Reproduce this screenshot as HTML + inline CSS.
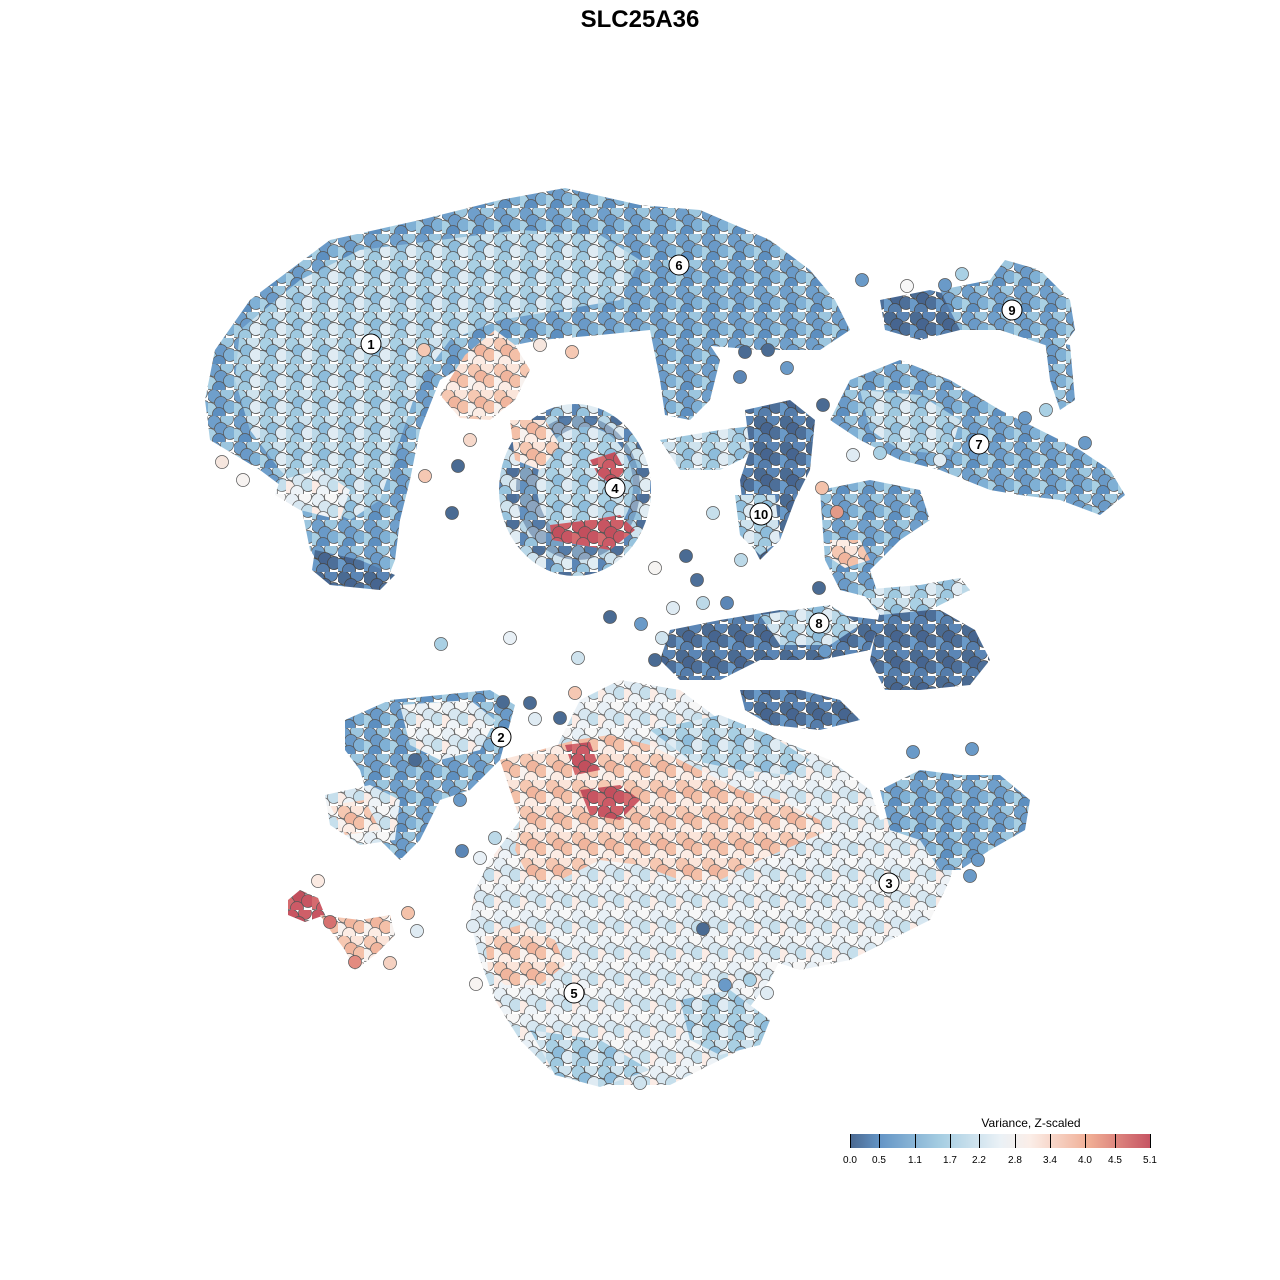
<!DOCTYPE html>
<html><head><style>
html,body{margin:0;padding:0;background:#fff;}
svg{display:block;font-family:"Liberation Sans",sans-serif;}
</style></head><body>
<svg width="1280" height="1280" viewBox="0 0 1280 1280" xmlns="http://www.w3.org/2000/svg">
<defs>
<linearGradient id="lg" x1="0" x2="1" y1="0" y2="0">
<stop offset="0" stop-color="#4a6890"/>
<stop offset="0.1" stop-color="#6495c6"/>
<stop offset="0.3" stop-color="#a5cde2"/>
<stop offset="0.5" stop-color="#eaf1f6"/>
<stop offset="0.6" stop-color="#fbeee8"/>
<stop offset="0.8" stop-color="#f0ad94"/>
<stop offset="1" stop-color="#c65463"/>
</linearGradient>
<pattern id="pA" width="26" height="26" patternUnits="userSpaceOnUse">
<g stroke="#555" stroke-width="0.7"><circle cx="6" cy="6" r="6.5" fill="#6f9fcb"/><circle cx="19" cy="3" r="6.5" fill="#9cc6df"/><circle cx="13" cy="13" r="6.5" fill="#6a9ac8"/><circle cx="2" cy="19" r="6.5" fill="#a9d0e4"/><circle cx="22" cy="17" r="6.5" fill="#7fb0d5"/><circle cx="11" cy="24" r="6.5" fill="#5d8fc0"/></g></pattern>
<pattern id="pB" width="26" height="26" patternUnits="userSpaceOnUse">
<g stroke="#555" stroke-width="0.7"><circle cx="6" cy="6" r="6.5" fill="#a9d0e4"/><circle cx="19" cy="3" r="6.5" fill="#cfe3ee"/><circle cx="13" cy="13" r="6.5" fill="#8dbcdb"/><circle cx="2" cy="19" r="6.5" fill="#bcd9e8"/><circle cx="22" cy="17" r="6.5" fill="#dfebf3"/><circle cx="11" cy="24" r="6.5" fill="#9fc9e0"/></g></pattern>
<pattern id="pC" width="26" height="26" patternUnits="userSpaceOnUse">
<g stroke="#444" stroke-width="0.7"><circle cx="6" cy="6" r="6.5" fill="#4a6b93"/><circle cx="19" cy="3" r="6.5" fill="#5b86b6"/><circle cx="13" cy="13" r="6.5" fill="#466590"/><circle cx="2" cy="19" r="6.5" fill="#6a9ac8"/><circle cx="22" cy="17" r="6.5" fill="#4d6f99"/><circle cx="11" cy="24" r="6.5" fill="#557dab"/></g></pattern>
<pattern id="pD" width="26" height="26" patternUnits="userSpaceOnUse">
<g stroke="#666" stroke-width="0.7"><circle cx="6" cy="6" r="6.5" fill="#e8f0f6"/><circle cx="19" cy="3" r="6.5" fill="#f7f7f7"/><circle cx="13" cy="13" r="6.5" fill="#d7e7f1"/><circle cx="2" cy="19" r="6.5" fill="#fbece6"/><circle cx="22" cy="17" r="6.5" fill="#c6dfec"/><circle cx="11" cy="24" r="6.5" fill="#eef3f7"/></g></pattern>
<pattern id="pE" width="26" height="26" patternUnits="userSpaceOnUse">
<g stroke="#666" stroke-width="0.7"><circle cx="6" cy="6" r="6.5" fill="#f6c8b2"/><circle cx="19" cy="3" r="6.5" fill="#fbe5da"/><circle cx="13" cy="13" r="6.5" fill="#f1b59d"/><circle cx="2" cy="19" r="6.5" fill="#f8f2ef"/><circle cx="22" cy="17" r="6.5" fill="#f4c0a8"/><circle cx="11" cy="24" r="6.5" fill="#fcece4"/></g></pattern>
<pattern id="pF" width="26" height="26" patternUnits="userSpaceOnUse">
<g stroke="#555" stroke-width="0.7"><circle cx="6" cy="6" r="6.5" fill="#c85562"/><circle cx="19" cy="3" r="6.5" fill="#cf5f68"/><circle cx="13" cy="13" r="6.5" fill="#c24f5d"/><circle cx="2" cy="19" r="6.5" fill="#d56b6f"/><circle cx="22" cy="17" r="6.5" fill="#c85562"/><circle cx="11" cy="24" r="6.5" fill="#cc5a66"/></g></pattern>
<pattern id="pG" width="26" height="26" patternUnits="userSpaceOnUse">
<g stroke="#555" stroke-width="0.7"><circle cx="6" cy="6" r="6.5" fill="#b8d7e8"/><circle cx="19" cy="3" r="6.5" fill="#4d6f99"/><circle cx="13" cy="13" r="6.5" fill="#cfe3ee"/><circle cx="2" cy="19" r="6.5" fill="#5b86b6"/><circle cx="22" cy="17" r="6.5" fill="#e0ecf3"/><circle cx="11" cy="24" r="6.5" fill="#98c4de"/></g></pattern>
</defs>

<text x="640" y="27" text-anchor="middle" font-size="24" font-weight="bold" fill="#000">SLC25A36</text>

<path fill="url(#pA)" d="M215,350 L250,300 L330,240 L420,220 L500,200 L565,188 L640,205 L700,210 L770,240 L810,270 L835,300 L850,330 L820,350 L760,350 L700,345 L650,330 L600,335 L540,340 L490,350 L440,380 L420,430 L410,480 L400,520 L395,560 L385,585 L330,580 L310,550 L300,500 L260,470 L210,440 L205,400 Z"/>
<path fill="url(#pB)" d="M240,330 L300,280 L360,250 L440,240 L520,230 L600,235 L640,260 L620,300 L560,310 L500,320 L450,340 L420,380 L400,440 L380,500 L350,520 L310,500 L280,470 L250,430 L235,380 Z"/>
<path fill="url(#pD)" d="M280,480 L320,470 L350,490 L340,520 L300,510 L275,495 Z"/>
<path fill="url(#pC)" d="M315,550 L360,560 L395,575 L380,590 L330,585 L312,570 Z"/>
<path fill="url(#pE)" d="M440,395 L465,355 L495,330 L515,345 L530,370 L515,400 L490,420 L460,418 Z"/>
<ellipse cx="575" cy="490" rx="76" ry="86" fill="url(#pG)"/>
<ellipse cx="578" cy="488" rx="62" ry="72" fill="url(#pC)" opacity="0.5"/>
<ellipse cx="585" cy="485" rx="48" ry="58" fill="url(#pB)"/>
<path fill="url(#pF)" d="M590,460 L615,452 L625,470 L612,485 L598,475 Z"/>
<path fill="url(#pF)" d="M550,525 L590,520 L620,515 L635,530 L610,550 L580,545 L552,540 Z"/>
<path fill="url(#pE)" d="M510,420 L545,420 L560,445 L540,470 L515,460 Z"/>
<path fill="url(#pA)" d="M650,330 L700,330 L720,360 L710,400 L690,420 L665,415 L660,380 Z"/>
<path fill="url(#pB)" d="M660,440 L720,430 L760,425 L760,450 L720,470 L680,470 Z"/>
<path fill="url(#pC)" d="M745,410 L790,400 L815,420 L810,470 L795,500 L780,540 L760,560 L745,530 L740,480 L750,450 Z"/>
<path fill="url(#pB)" d="M735,495 L775,495 L780,540 L760,555 L740,535 Z"/>
<path fill="url(#pA)" d="M850,380 L900,360 L950,380 L1000,410 L1040,430 L1080,450 L1110,470 L1125,495 L1100,515 L1060,500 L1020,495 L990,490 L940,470 L900,460 L860,440 L830,420 Z"/>
<path fill="url(#pB)" d="M860,390 L920,395 L960,420 L950,455 L900,450 L870,430 Z"/>
<path fill="url(#pA)" d="M820,490 L870,480 L920,490 L930,520 L900,540 L870,570 L880,600 L840,590 L825,560 Z"/>
<path fill="url(#pE)" d="M830,540 L860,540 L870,560 L845,568 L830,558 Z"/>
<path fill="url(#pC)" d="M880,300 L930,290 L970,300 L960,330 L920,340 L885,330 Z"/>
<path fill="url(#pA)" d="M940,290 L990,280 L1005,260 L1040,270 L1070,300 L1075,330 L1060,350 L1030,340 L1000,330 L960,330 Z"/>
<path fill="url(#pA)" d="M1045,340 L1070,345 L1075,400 L1060,410 L1050,380 Z"/>
<path fill="url(#pC)" d="M880,610 L940,610 L975,630 L990,660 L970,685 L920,690 L885,690 L870,660 Z"/>
<path fill="url(#pB)" d="M860,590 L920,585 L960,578 L970,590 L930,610 L880,615 Z"/>
<path fill="url(#pC)" d="M670,630 L720,620 L780,610 L840,615 L880,620 L870,650 L820,660 L760,660 L720,680 L680,680 L660,660 Z"/>
<path fill="url(#pB)" d="M760,615 L830,605 L860,625 L830,645 L780,645 Z"/>
<path fill="url(#pC)" d="M740,690 L800,690 L840,700 L860,720 L820,730 L770,725 L745,710 Z"/>
<path fill="url(#pA)" d="M345,720 L390,700 L440,695 L490,690 L515,705 L500,760 L470,790 L440,800 L420,840 L400,860 L380,840 L360,770 L345,750 Z"/>
<path fill="url(#pD)" d="M400,705 L470,700 L495,720 L480,750 L440,760 L410,745 Z"/>
<path fill="url(#pD)" d="M325,795 L370,785 L400,800 L395,840 L360,845 L330,825 Z"/>
<path fill="url(#pE)" d="M330,805 L365,800 L380,830 L345,835 Z"/>
<path fill="url(#pD)" d="M490,860 L520,820 L540,790 L560,740 L580,700 L620,680 L680,690 L720,720 L780,740 L830,760 L870,790 L880,820 L860,860 L840,900 L790,940 L770,980 L740,1020 L760,1040 L720,1060 L670,1085 L600,1085 L550,1070 L520,1040 L495,1000 L480,960 L470,920 L475,890 Z"/>
<path fill="url(#pE)" d="M500,760 L540,750 L575,740 L610,735 L650,745 L700,770 L740,790 L780,800 L820,820 L830,850 L800,870 L760,860 L720,880 L680,880 L640,865 L600,860 L560,880 L530,880 L515,850 L520,820 Z"/>
<path fill="url(#pE)" d="M485,935 L520,925 L555,940 L565,965 L540,985 L505,985 L488,970 Z"/>
<path fill="url(#pF)" d="M565,745 L590,742 L600,770 L575,775 Z"/>
<path fill="url(#pF)" d="M580,790 L620,785 L640,800 L620,820 L590,815 Z"/>
<path fill="url(#pB)" d="M650,730 L720,715 L770,735 L810,760 L790,775 L740,770 L690,760 Z"/>
<path fill="url(#pB)" d="M680,1000 L730,990 L770,1020 L760,1045 L720,1055 L690,1040 Z"/>
<path fill="url(#pB)" d="M530,1030 L600,1040 L650,1070 L600,1087 L555,1075 Z"/>
<path fill="url(#pD)" d="M760,860 L830,830 L880,820 L920,810 L960,830 L950,880 L930,920 L890,940 L850,960 L800,970 L770,960 L750,920 Z"/>
<path fill="url(#pA)" d="M880,790 L920,770 L960,775 L1000,775 L1030,800 L1025,830 L990,850 L960,870 L940,870 L920,840 L890,830 Z"/>
<path fill="url(#pF)" d="M288,900 L300,890 L318,898 L325,915 L305,922 L288,915 Z"/>
<path fill="url(#pE)" d="M320,915 L360,920 L390,915 L395,935 L375,955 L355,970 L345,950 L330,930 Z"/>
<circle cx="330" cy="922" r="6.5" fill="#d6716f" stroke="#555" stroke-width="0.7"/>
<circle cx="355" cy="962" r="6.5" fill="#e38b80" stroke="#555" stroke-width="0.7"/>
<circle cx="318" cy="881" r="6.5" fill="#fbeae2" stroke="#555" stroke-width="0.7"/>
<circle cx="408" cy="913" r="6.5" fill="#f4c2aa" stroke="#555" stroke-width="0.7"/>
<circle cx="417" cy="931" r="6.5" fill="#dfebf3" stroke="#555" stroke-width="0.7"/>
<circle cx="390" cy="963" r="6.5" fill="#f5d1c1" stroke="#555" stroke-width="0.7"/>

<g stroke="#555" stroke-width="0.7">
<circle cx="243" cy="480" r="6.5" fill="#f7f3f1"/><circle cx="222" cy="462" r="6.5" fill="#f6e6de"/>
<circle cx="425" cy="476" r="6.5" fill="#f5c8b3"/><circle cx="452" cy="513" r="6.5" fill="#4a6b93"/>
<circle cx="458" cy="466" r="6.5" fill="#4a6b93"/><circle cx="655" cy="568" r="6.5" fill="#f6f4f2"/>
<circle cx="686" cy="556" r="6.5" fill="#4a6b93"/><circle cx="697" cy="580" r="6.5" fill="#4d6f99"/>
<circle cx="741" cy="560" r="6.5" fill="#bcd9e8"/><circle cx="713" cy="513" r="6.5" fill="#c6dfec"/>
<circle cx="727" cy="603" r="6.5" fill="#5b86b6"/><circle cx="703" cy="603" r="6.5" fill="#bcd9e8"/>
<circle cx="673" cy="608" r="6.5" fill="#dfebf3"/><circle cx="610" cy="617" r="6.5" fill="#4a6b93"/>
<circle cx="641" cy="624" r="6.5" fill="#6a9ac8"/><circle cx="662" cy="638" r="6.5" fill="#cfe3ee"/>
<circle cx="655" cy="660" r="6.5" fill="#4a6b93"/><circle cx="578" cy="658" r="6.5" fill="#cfe3ee"/>
<circle cx="510" cy="638" r="6.5" fill="#e8f0f6"/><circle cx="441" cy="644" r="6.5" fill="#a9d0e4"/>
<circle cx="825" cy="651" r="6.5" fill="#6a9ac8"/><circle cx="819" cy="588" r="6.5" fill="#4a6b93"/>
<circle cx="862" cy="280" r="6.5" fill="#6a9ac8"/><circle cx="768" cy="350" r="6.5" fill="#4a6b93"/>
<circle cx="745" cy="352" r="6.5" fill="#4a6b93"/><circle cx="740" cy="377" r="6.5" fill="#5b86b6"/>
<circle cx="787" cy="368" r="6.5" fill="#6a9ac8"/><circle cx="823" cy="405" r="6.5" fill="#4a6b93"/>
<circle cx="853" cy="455" r="6.5" fill="#dfebf3"/><circle cx="880" cy="453" r="6.5" fill="#a9d0e4"/>
<circle cx="940" cy="460" r="6.5" fill="#dfebf3"/><circle cx="1025" cy="418" r="6.5" fill="#6a9ac8"/>
<circle cx="1046" cy="410" r="6.5" fill="#a9d0e4"/><circle cx="1085" cy="443" r="6.5" fill="#6a9ac8"/>
<circle cx="822" cy="488" r="6.5" fill="#f4c2aa"/><circle cx="837" cy="512" r="6.5" fill="#e39a88"/>
<circle cx="972" cy="749" r="6.5" fill="#6a9ac8"/><circle cx="913" cy="752" r="6.5" fill="#6a9ac8"/>
<circle cx="978" cy="860" r="6.5" fill="#6a9ac8"/><circle cx="970" cy="876" r="6.5" fill="#6a9ac8"/>
<circle cx="767" cy="993" r="6.5" fill="#dfebf3"/><circle cx="750" cy="980" r="6.5" fill="#a9d0e4"/>
<circle cx="725" cy="985" r="6.5" fill="#6a9ac8"/><circle cx="703" cy="929" r="6.5" fill="#4a6b93"/>
<circle cx="476" cy="984" r="6.5" fill="#f7f3f1"/><circle cx="473" cy="926" r="6.5" fill="#dfebf3"/>
<circle cx="480" cy="858" r="6.5" fill="#e8f0f6"/><circle cx="462" cy="851" r="6.5" fill="#5b86b6"/>
<circle cx="495" cy="838" r="6.5" fill="#bcd9e8"/><circle cx="503" cy="702" r="6.5" fill="#4a6b93"/>
<circle cx="530" cy="703" r="6.5" fill="#4a6b93"/><circle cx="535" cy="719" r="6.5" fill="#dfebf3"/>
<circle cx="575" cy="693" r="6.5" fill="#f5c8b3"/><circle cx="560" cy="718" r="6.5" fill="#4a6b93"/>
<circle cx="415" cy="760" r="6.5" fill="#4a6b93"/><circle cx="460" cy="800" r="6.5" fill="#6a9ac8"/>
<circle cx="640" cy="1083" r="6.5" fill="#cfe3ee"/>
<circle cx="945" cy="285" r="6.5" fill="#6a9ac8"/><circle cx="962" cy="274" r="6.5" fill="#a9d0e4"/>
<circle cx="907" cy="286" r="6.5" fill="#f7f7f7"/>
<circle cx="424" cy="350" r="6.5" fill="#f5c8b3"/><circle cx="470" cy="440" r="6.5" fill="#f6d8ca"/>
<circle cx="540" cy="345" r="6.5" fill="#f6e6de"/><circle cx="572" cy="352" r="6.5" fill="#f5c8b3"/>
</g>

<g font-size="13" font-weight="bold" text-anchor="middle" fill="#000">
<circle cx="371" cy="344" r="10" fill="#fff" stroke="#000" stroke-width="1"/><text x="371" y="349">1</text>
<circle cx="501" cy="737" r="10" fill="#fff" stroke="#000" stroke-width="1"/><text x="501" y="742">2</text>
<circle cx="889" cy="883" r="10" fill="#fff" stroke="#000" stroke-width="1"/><text x="889" y="888">3</text>
<circle cx="615" cy="488" r="10" fill="#fff" stroke="#000" stroke-width="1"/><text x="615" y="493">4</text>
<circle cx="574" cy="993" r="10" fill="#fff" stroke="#000" stroke-width="1"/><text x="574" y="998">5</text>
<circle cx="679" cy="265" r="10" fill="#fff" stroke="#000" stroke-width="1"/><text x="679" y="270">6</text>
<circle cx="979" cy="444" r="10" fill="#fff" stroke="#000" stroke-width="1"/><text x="979" y="449">7</text>
<circle cx="819" cy="623" r="10" fill="#fff" stroke="#000" stroke-width="1"/><text x="819" y="628">8</text>
<circle cx="1012" cy="310" r="10" fill="#fff" stroke="#000" stroke-width="1"/><text x="1012" y="315">9</text>
<circle cx="761" cy="514" r="11" fill="#fff" stroke="#000" stroke-width="1"/><text x="761" y="519">10</text>
</g>

<text x="1031" y="1127" text-anchor="middle" font-size="12" fill="#000">Variance, Z-scaled</text>
<rect x="850" y="1134" width="300" height="14" fill="url(#lg)"/>
<g stroke="#000" stroke-width="1">
<line x1="850.5" y1="1134" x2="850.5" y2="1148"/><line x1="879.5" y1="1134" x2="879.5" y2="1148"/>
<line x1="915.5" y1="1134" x2="915.5" y2="1148"/><line x1="950.5" y1="1134" x2="950.5" y2="1148"/>
<line x1="979.5" y1="1134" x2="979.5" y2="1148"/><line x1="1015.5" y1="1134" x2="1015.5" y2="1148"/>
<line x1="1050.5" y1="1134" x2="1050.5" y2="1148"/><line x1="1085.5" y1="1134" x2="1085.5" y2="1148"/>
<line x1="1115.5" y1="1134" x2="1115.5" y2="1148"/><line x1="1150.5" y1="1134" x2="1150.5" y2="1148"/>
</g>
<g font-size="10" text-anchor="middle" fill="#000">
<text x="850" y="1163">0.0</text><text x="879" y="1163">0.5</text><text x="915" y="1163">1.1</text>
<text x="950" y="1163">1.7</text><text x="979" y="1163">2.2</text><text x="1015" y="1163">2.8</text>
<text x="1050" y="1163">3.4</text><text x="1085" y="1163">4.0</text><text x="1115" y="1163">4.5</text>
<text x="1150" y="1163">5.1</text>
</g>
</svg>
</body></html>
